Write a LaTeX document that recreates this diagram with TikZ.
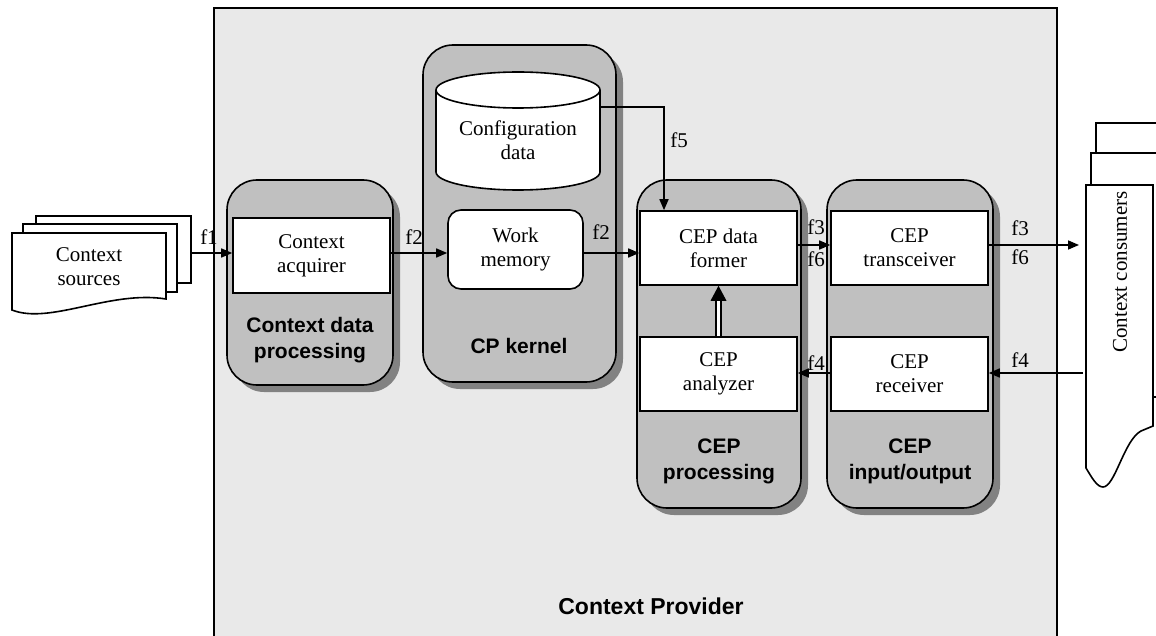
\documentclass[tikz,border=0pt]{standalone}
\usepackage{fontspec}
\setmainfont{Liberation Serif}
\newfontfamily\lsans{Liberation Sans}
\usetikzlibrary{arrows.meta,shadows}
\definecolor{outergray}{RGB}{233,233,233}
\definecolor{grpgray}{RGB}{192,192,192}
\definecolor{shadgray}{RGB}{130,130,130}
\begin{document}
\begin{tikzpicture}[x=1pt,y=-1pt,line width=1.6pt,
  txt/.style={font=\fontsize{21}{24}\selectfont, align=center, inner sep=1pt},
  lbl/.style={font=\lsans\bfseries\fontsize{21}{26}\selectfont, align=center},
  grp/.style={draw, fill=grpgray, rounded corners=30pt, inner sep=0pt,
    drop shadow={shadow xshift=7pt, shadow yshift=-7pt, fill=shadgray, opacity=1}},
  wbox/.style={draw, fill=white, txt, minimum width=157pt, minimum height=74pt},
  arr/.style={-{Triangle[length=11pt,width=9pt]}, line width=1.6pt}]
\useasboundingbox (0,0) rectangle (1156,636);
\clip (0,0) rectangle (1156,636);
\fill[white] (0,0) rectangle (1156,636);

% outer provider box
\node[draw, fill=outergray, minimum width=843pt, minimum height=640pt, inner sep=0pt, anchor=north west] (prov) at (213,7) {};
\node[lbl, font=\lsans\bfseries\fontsize{23}{26}\selectfont] (provlbl) at (651,606) {Context Provider};

% groups
\node[grp, minimum width=166pt, minimum height=205pt] (cdp) at (310,282.5) {};
\node[grp, minimum width=193pt, minimum height=337pt] (cpk) at (519.5,213.5) {};
\node[grp, minimum width=164pt, minimum height=328pt] (cepp) at (719,344) {};
\node[grp, minimum width=166pt, minimum height=328pt] (cepio) at (910,344) {};

% inner boxes
\node[wbox, minimum height=75pt] (acq) at (311.5,255.5) {Context\\acquirer};
\node[wbox, rounded corners=13pt, minimum width=135pt, minimum height=79pt] (wm) at (515.5,249.5) {Work\\memory};
\node[wbox] (former) at (718.5,248) {CEP data\\former};
\node[wbox] (ana) at (718.5,374) {CEP\\analyzer};
\node[wbox] (trx) at (909.5,248) {CEP\\transceiver};
\node[wbox] (rcv) at (909.5,374) {CEP\\receiver};

% group labels
\node[lbl] (cdpl) at (310,340) {Context data\\processing};
\node[lbl] (cpkl) at (519,346) {CP kernel};
\node[lbl] (ceppl) at (719,461) {CEP\\processing};
\node[lbl] (cepiol) at (910,461) {CEP\\input/output};

% cylinder
\filldraw[fill=white] (518,172) ellipse [x radius=82, y radius=18];
\fill[white] (436,90) rectangle (600,172);
\draw (436,90) -- (436,172) (600,90) -- (600,172);
\filldraw[fill=white] (518,90) ellipse [x radius=82, y radius=18];
\node[inner sep=0pt, minimum width=164pt, minimum height=118pt] (cfg) at (518,131) {};
\node[txt] (cfgtxt) at (518,140) {Configuration\\data};

% context sources
\filldraw[fill=white] (36,216) rectangle (191,283);
\filldraw[fill=white] (23,224) rectangle (177,292);
\filldraw[fill=white] (12,233) -- (166,233) -- (166,299) .. controls (110,290) and (50,325) .. (12,310) -- cycle;
\node[txt] (src) at (89,267) {Context\\sources};
\coordinate (srcout) at (191,253);

% context consumers
\filldraw[fill=white] (1096,123) rectangle (1180,380);
\filldraw[fill=white] (1091,153) rectangle (1175,397);
\filldraw[fill=white] (1086,185) -- (1153,185) -- (1153,426) -- (1141,431) .. controls (1124,440) and (1115,487) .. (1103,487) .. controls (1097,487) and (1092,478) .. (1086,468) -- cycle;
\node[txt, rotate=90] (cons) at (1120,272) {Context consumers};
\coordinate (consin) at (1079,245);
\coordinate (consout) at (1083,373);

% rows
\coordinate (r1) at (0,253);
\coordinate (r2) at (0,245);
\coordinate (r3) at (0,373);

% connectors
\draw[arr] (srcout) -- (srcout -| acq.west);
\draw[arr] (acq.east |- r1) -- (wm.west |- r1);
\draw[arr] (wm.east |- r1) -- (former.west |- r1);
\draw[arr] (former.east |- r2) -- (trx.west |- r2);
\draw[arr] (trx.east |- r2) -- (consin);
\draw[arr] (consout) -- (rcv.east |- r3);
\draw[arr] (rcv.west |- r3) -- (ana.east |- r3);
\draw[arr] ([yshift=-36pt]cfg.north east) -| ([xshift=-54.5pt]former.north);
\draw[double=white, double distance=2.5pt, line width=2pt] (ana.north) -- ([yshift=-13pt]former.south);
\fill (former.south) -- ++(-8,15) -- ++(16,0) -- cycle;

% flow labels
\node[txt] (lf1) at (209,237) {f1};
\node[txt] (lf2a) at (414,237) {f2};
\node[txt] (lf2b) at (601,232) {f2};
\node[txt] (lf5) at (679,140) {f5};
\node[txt] (lf3a) at (816,227) {f3};
\node[txt] (lf6a) at (816,259) {f6};
\node[txt] (lf3b) at (1020,228) {f3};
\node[txt] (lf6b) at (1020,257) {f6};
\node[txt] (lf4a) at (816,363) {f4};
\node[txt] (lf4b) at (1020,360) {f4};
\end{tikzpicture}
\end{document}
